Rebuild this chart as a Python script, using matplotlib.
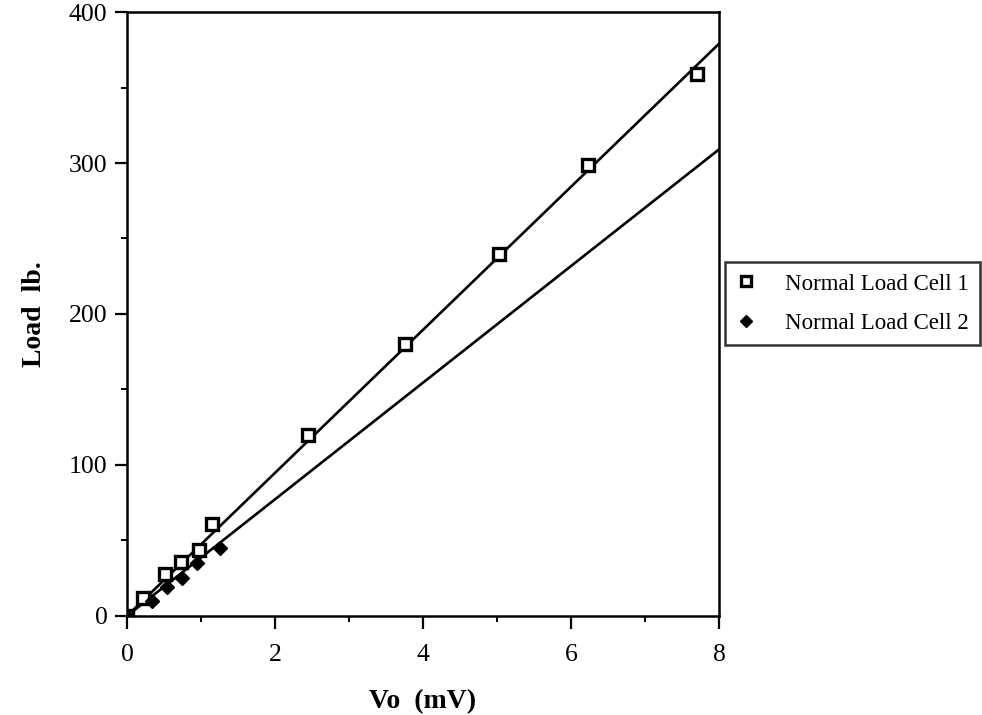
import matplotlib
matplotlib.use('Agg')
import matplotlib.pyplot as plt
from matplotlib.ticker import MultipleLocator

plt.rcParams['font.family'] = ['Liberation Serif', 'DejaVu Serif']

# calibration readings, output voltage (mV) vs applied load (lb)
vo_cell1 = [0.0, 0.22, 0.51, 0.73, 0.97, 1.15, 2.45, 3.76, 5.03, 6.23, 7.70]
load_cell1 = [0, 12, 28, 36, 44, 61, 120, 180, 240, 299, 359]

vo_cell2 = [0.0, 0.34, 0.54, 0.74, 0.95, 1.26]
load_cell2 = [0, 10, 19, 25, 35, 45]

# linear fit lines across the full voltage range
fit_vo = [0, 8]
fit_cell1 = [0, 379]
fit_cell2 = [0, 309]

fig = plt.figure(figsize=(9.82, 7.15), dpi=100)
ax = fig.add_axes([0.1293, 0.1385, 0.6029, 0.8447])

ax.plot(fit_vo, fit_cell1, color='black', lw=1.9, zorder=2)
ax.plot(fit_vo, fit_cell2, color='black', lw=1.9, zorder=2)
ax.plot(vo_cell1, load_cell1, linestyle='none', marker='s', ms=8.5,
        mfc='white', mec='black', mew=2.4, zorder=3, label='Normal Load Cell 1')
ax.plot(vo_cell2, load_cell2, linestyle='none', marker='D', ms=7.5,
        mfc='black', mec='black', zorder=3, label='Normal Load Cell 2')

ax.set_xlim(0, 8)
ax.set_ylim(0, 400)
ax.xaxis.set_major_locator(MultipleLocator(2))
ax.xaxis.set_minor_locator(MultipleLocator(1))
ax.yaxis.set_major_locator(MultipleLocator(100))
ax.yaxis.set_minor_locator(MultipleLocator(50))
ax.tick_params(which='major', direction='out', length=9, width=1.6,
               labelsize=18.5)
ax.tick_params(axis='x', which='major', pad=11)
ax.tick_params(axis='y', which='major', pad=5)
ax.tick_params(which='minor', direction='out', length=4.5, width=1.4)
for s in ax.spines.values():
    s.set_linewidth(1.8)

ax.set_xlabel('Vo  (mV)', fontsize=20, fontweight='bold', labelpad=17)
ax.set_ylabel('Load  lb.', fontsize=20, fontweight='bold', labelpad=16)

leg = ax.legend(loc='upper left', bbox_to_anchor=(725 / 982, 1 - 262 / 715),
                bbox_transform=fig.transFigure, fontsize=16.5, frameon=True,
                fancybox=False, edgecolor='black', borderpad=0.5,
                handletextpad=1.3, labelspacing=0.8, handlelength=0.8,
                borderaxespad=0, markerscale=0.85)
leg.get_frame().set_linewidth(1.8)

fig.savefig('out.png', dpi=100)
